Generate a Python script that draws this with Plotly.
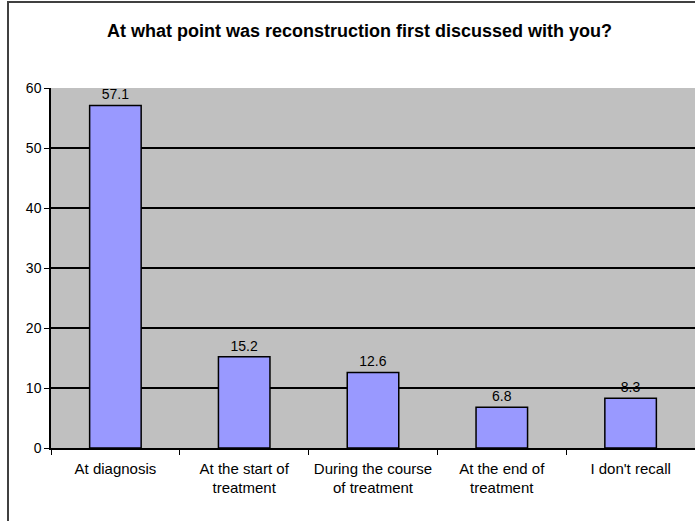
import plotly.graph_objects as go

categories = ["At diagnosis", "At the start of<br>treatment", "During the course<br>of treatment",
              "At the end of<br>treatment", "I don't recall"]
values = [57.1, 15.2, 12.6, 6.8, 8.3]
value_labels = ["57.1", "15.2", "12.6", "6.8", "8.3"]
y_ticks = [0, 10, 20, 30, 40, 50, 60]

FONT = "Liberation Sans, Arial, sans-serif"

fig = go.Figure()
fig.add_trace(go.Bar(
    x=categories, y=values, text=value_labels, textposition="outside",
    textfont=dict(size=14, color="#000000", family=FONT),
    marker=dict(color="#9999FF", line=dict(color="#000000", width=1.5)),
    cliponaxis=False, hoverinfo="skip",
))

fig.update_layout(
    width=695, height=521,
    margin=dict(l=51, r=0, t=88, b=73, autoexpand=False),
    paper_bgcolor="white", plot_bgcolor="#C0C0C0",
    bargap=0.6, showlegend=False,
    title=dict(text="<b>At what point was reconstruction first discussed with you?</b>",
               x=359.5/695, xanchor="center", xref="container",
               y=1 - 31/521, yanchor="middle",
               font=dict(size=18, color="#000000", family=FONT)),
    font=dict(family=FONT, size=13, color="#000000"),
)
fig.update_xaxes(
    showline=True, linecolor="#000000", linewidth=1.5,
    ticks="outside", tickson="boundaries", ticklen=5, tickcolor="#000000",
    ticklabelstandoff=6,
    tickfont=dict(size=15, family=FONT, color="#000000"), showgrid=False,
)
fig.update_yaxes(
    range=[0, 60], tickvals=y_ticks, showline=True, linecolor="#000000", linewidth=1.5,
    ticks="outside", ticklen=5, tickcolor="#000000",
    showgrid=True, gridcolor="#000000", gridwidth=1.5, zeroline=False,
    tickfont=dict(size=14, family=FONT, color="#000000"),
)
# chart-area border
fig.add_shape(type="rect", xref="paper", yref="paper",
              x0=-43/644, x1=1.05, y0=-0.5, y1=1 + 86/360,
              line=dict(color="#404040", width=2), fillcolor="rgba(0,0,0,0)", layer="above")

fig.write_html("out.html", config={"displayModeBar": False},
               post_script="document.body.style.margin='0';document.body.style.overflow='hidden';")
